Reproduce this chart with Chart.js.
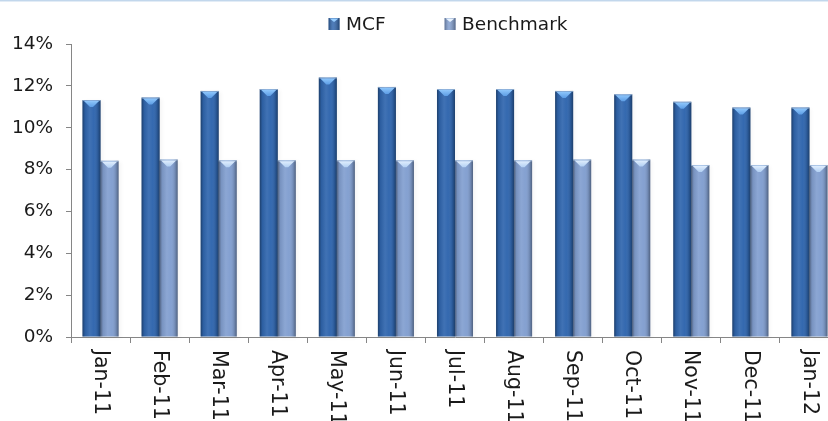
<!DOCTYPE html>
<html>
<head>
<meta charset="utf-8">
<script src="https://cdn.jsdelivr.net/npm/chart.js@4.4.1/dist/chart.umd.min.js"></script>
<style>
  html, body { margin: 0; padding: 0; background: #ffffff; overflow: hidden; }
  #wrap { position: relative; width: 840px; height: 421px; }
</style>
</head>
<body>
<div id="wrap"><canvas id="chart" width="840" height="421"></canvas></div>
<script>
// Monthly returns, MCF vs. benchmark (%)
const months = ['Jan-11', 'Feb-11', 'Mar-11', 'Apr-11', 'May-11', 'Jun-11', 'Jul-11',
                'Aug-11', 'Sep-11', 'Oct-11', 'Nov-11', 'Dec-11', 'Jan-12'];
const mcf = [11.32, 11.44, 11.76, 11.85, 12.40, 11.95, 11.85, 11.85, 11.76, 11.60, 11.24, 10.96, 10.96];
const benchmark = [8.42, 8.48, 8.44, 8.44, 8.44, 8.44, 8.44, 8.44, 8.48, 8.48, 8.22, 8.22, 8.22];
const seriesNames = ['MCF', 'Benchmark'];
const yTickValues = [0, 2, 4, 6, 8, 10, 12, 14];

const FONT = "'DejaVu Sans', Verdana, sans-serif";
const AXIS = '#868686';
const TEXT = '#1a1a1a';

// base colour, cap highlight per series
const palette = [
  { base: '#3066ae', capTop: 'rgba(150,205,255,1)', capBot: 'rgba(95,160,232,0.95)' },
  { base: '#829fd0', capTop: 'rgba(232,243,255,1)', capBot: 'rgba(180,210,245,0.95)' }
];

function barGeom(el) {
  const p = el.getProps(['x', 'y', 'base', 'width'], true);
  return { left: p.x - p.width / 2, right: p.x + p.width / 2, top: Math.min(p.y, p.base),
           bottom: Math.max(p.y, p.base), cx: p.x, w: p.width };
}

// soft drop shadow behind the bars
const barShadow = {
  id: 'barShadow',
  beforeDatasetsDraw(chart) {
    const ctx = chart.ctx;
    ctx.save();
    chart.data.datasets.forEach((ds, i) => {
      chart.getDatasetMeta(i).data.forEach(el => {
        const g = barGeom(el);
        ctx.shadowColor = 'rgba(0,0,0,0.35)';
        ctx.shadowBlur = 4;
        ctx.shadowOffsetX = 2;
        ctx.shadowOffsetY = 1;
        ctx.fillStyle = 'rgba(0,0,0,0.12)';
        ctx.fillRect(g.left, g.top, g.w, g.bottom - g.top);
      });
    });
    ctx.restore();
  }
};

// rounded-column shading and bevelled top cap
const barBevel = {
  id: 'barBevel',
  afterDatasetsDraw(chart) {
    const ctx = chart.ctx;
    ctx.save();
    chart.data.datasets.forEach((ds, i) => {
      const pal = palette[i];
      chart.getDatasetMeta(i).data.forEach(el => {
        const g = barGeom(el);
        const h = g.bottom - g.top;
        const lg = ctx.createLinearGradient(g.left, 0, g.right, 0);
        lg.addColorStop(0, 'rgba(0,0,0,0.38)');
        lg.addColorStop(0.14, 'rgba(0,0,0,0.08)');
        lg.addColorStop(0.4, 'rgba(255,255,255,0.08)');
        lg.addColorStop(0.62, 'rgba(255,255,255,0.02)');
        lg.addColorStop(0.86, 'rgba(0,0,0,0.14)');
        lg.addColorStop(1, 'rgba(0,0,0,0.38)');
        ctx.fillStyle = lg;
        ctx.fillRect(g.left, g.top, g.w, h);
        // bevel cap
        const capH = Math.min(7, h);
        const cg = ctx.createLinearGradient(0, g.top, 0, g.top + capH);
        cg.addColorStop(0, pal.capTop);
        cg.addColorStop(1, pal.capBot);
        ctx.fillStyle = cg;
        ctx.beginPath();
        ctx.moveTo(g.left + 1.5, g.top + 1);
        ctx.lineTo(g.right - 1.5, g.top + 1);
        ctx.lineTo(g.cx + 1.5, g.top + capH);
        ctx.lineTo(g.cx - 1.5, g.top + capH);
        ctx.closePath();
        ctx.fill();
        ctx.fillStyle = 'rgba(200,225,250,0.6)';
        ctx.fillRect(g.left, g.top, g.w, 1);
      });
    });
    ctx.restore();
  }
};

// month labels turned a quarter clockwise under each category
const monthLabels = {
  id: 'monthLabels',
  afterDraw(chart) {
    const ctx = chart.ctx;
    const xs = chart.scales.x;
    ctx.save();
    ctx.fillStyle = TEXT;
    ctx.font = `20.5px ${FONT}`;
    ctx.textAlign = 'left';
    ctx.textBaseline = 'middle';
    chart.data.labels.forEach((lab, i) => {
      const x = xs.getPixelForTick(i);
      ctx.save();
      ctx.translate(x - 0.5, xs.top + 13);
      ctx.rotate(Math.PI / 2);
      ctx.fillText(lab, 0, 0);
      ctx.restore();
    });
    ctx.restore();
  }
};

// legend row with small bevelled swatches
const seriesLegend = {
  id: 'seriesLegend',
  afterDraw(chart) {
    const ctx = chart.ctx;
    ctx.save();
    ctx.font = `18.5px ${FONT}`;
    ctx.textBaseline = 'middle';
    ctx.textAlign = 'left';
    const box = 11, gap = 6.5, spacing = 59, cy = 24;
    const items = chart.data.datasets.map(d => d.label);
    const widths = items.map(t => ctx.measureText(t).width);
    let total = 0;
    widths.forEach((w, i) => { total += box + gap + w + (i < widths.length - 1 ? spacing : 0); });
    let x = 448 - total / 2;
    items.forEach((t, i) => {
      const pal = palette[i];
      ctx.fillStyle = pal.base;
      ctx.fillRect(x, cy - 6, box, box + 1);
      const sg = ctx.createLinearGradient(x, 0, x + box, 0);
      sg.addColorStop(0, 'rgba(0,0,0,0.3)');
      sg.addColorStop(0.4, 'rgba(255,255,255,0.15)');
      sg.addColorStop(1, 'rgba(0,0,0,0.35)');
      ctx.fillStyle = sg;
      ctx.fillRect(x, cy - 6, box, box + 1);
      ctx.fillStyle = pal.capTop;
      ctx.beginPath();
      ctx.moveTo(x + 1, cy - 5.5);
      ctx.lineTo(x + box - 1, cy - 5.5);
      ctx.lineTo(x + box / 2, cy - 2);
      ctx.closePath();
      ctx.fill();
      ctx.fillStyle = TEXT;
      ctx.fillText(t, x + box + gap, cy + 1);
      x += box + gap + widths[i] + spacing;
    });
    ctx.restore();
  }
};

// thin rule along the top edge
const topRule = {
  id: 'topRule',
  afterDraw(chart) {
    const ctx = chart.ctx;
    ctx.save();
    ctx.fillStyle = '#c2d7ec';
    ctx.fillRect(0, 0, chart.width, 1);
    ctx.fillStyle = '#e2ecf6';
    ctx.fillRect(0, 1, chart.width, 1);
    ctx.restore();
  }
};

const seriesValues = [mcf, benchmark];

new Chart(document.getElementById('chart'), {
  type: 'bar',
  data: {
    labels: months,
    datasets: seriesValues.map((vals, i) => ({
      label: seriesNames[i],
      data: vals,
      backgroundColor: palette[i].base,
      borderWidth: 0,
      barPercentage: 1.0,
      categoryPercentage: 0.61
    }))
  },
  options: {
    responsive: false,
    devicePixelRatio: 1,
    animation: false,
    layout: { padding: { top: 44, right: 1, left: 0, bottom: 0 } },
    plugins: {
      legend: { display: false },
      tooltip: { enabled: false }
    },
    scales: {
      x: {
        offset: true,
        grid: { display: true, drawOnChartArea: false, drawTicks: true, tickLength: 6,
                color: AXIS, offset: true },
        border: { display: true, color: AXIS, width: 1 },
        ticks: { display: false },
        afterFit(s) { s.height = 84; }
      },
      y: {
        min: 0,
        max: 14,
        afterBuildTicks(s) { s.ticks = yTickValues.map(v => ({ value: v })); },
        grid: { display: true, drawOnChartArea: false, drawTicks: true, tickLength: 5, color: AXIS },
        border: { display: true, color: AXIS, width: 1 },
        ticks: {
          color: TEXT,
          font: { family: FONT, size: 18.5 },
          padding: 13,
          callback: v => v + '%'
        },
        afterFit(s) { s.width = 71; }
      }
    }
  },
  plugins: [barShadow, barBevel, monthLabels, seriesLegend, topRule]
});
</script>
</body>
</html>
